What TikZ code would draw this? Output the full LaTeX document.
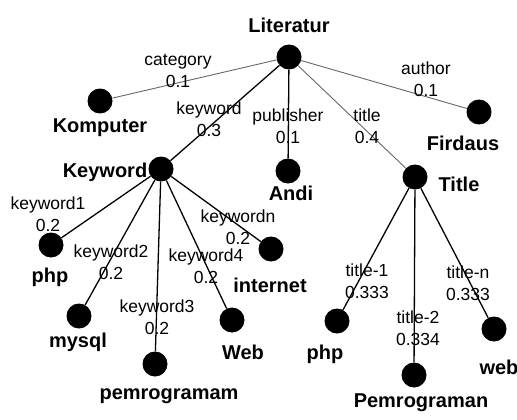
\documentclass[tikz,border=0pt]{standalone}
\usepackage{fontspec}
\setmainfont{Liberation Sans}
\usepackage{xcolor}

\begin{document}
\begin{tikzpicture}[x=1pt,y=-1pt,
    dot/.style={circle,fill=black,minimum size=25pt,inner sep=0pt},
    word/.style={anchor=base,inner sep=0pt,font=\bfseries\fontsize{20}{24}\selectfont},
    weight/.style={align=center,inner sep=0pt,font=\fontsize{17.5}{22}\selectfont},
    edge/.style={line width=1.3pt},
    faded/.style={line width=0.9pt,draw=black!60}]
  \useasboundingbox (0,0) rectangle (517,420);

  % dots
  \node[dot] (lit) at (289,57) {};
  \node[dot] (komp) at (100,101) {};
  \node[dot] (keyw) at (161,169) {};
  \node[dot] (andi) at (288,171) {};
  \node[dot] (firdaus) at (479,112) {};
  \node[dot] (title) at (415,177) {};
  \node[dot] (php_k) at (51,245) {};
  \node[dot] (mysql) at (79,316) {};
  \node[dot] (pemrog_k) at (155,364) {};
  \node[dot] (web_k) at (232,320) {};
  \node[dot] (internet) at (271,249) {};
  \node[dot] (php_t) at (337,321) {};
  \node[dot] (pemrog_t) at (414,375) {};
  \node[dot] (web_t) at (494,329) {};

  % names
  \node[word] (lit_txt) at (289,33) {Literatur};
  \node[word] (komp_txt) at (100,132) {Komputer};
  \node[word] (firdaus_txt) at (463,150) {Firdaus};
  \node[word] (keyw_txt) at (105,177) {Keyword};
  \node[word] (andi_txt) at (291,200) {Andi};
  \node[word] (title_txt) at (459,191) {Title};
  \node[word] (php_k_txt) at (50,282) {php};
  \node[word] (internet_txt) at (270,292) {internet};
  \node[word] (mysql_txt) at (78,347) {mysql};
  \node[word] (web_k_txt) at (243,359) {Web};
  \node[word] (php_t_txt) at (325,359) {php};
  \node[word] (web_t_txt) at (499,374) {web};
  \node[word] (pemrog_k_txt) at (169,399) {pemrogramam};
  \node[word] (pemrog_t_txt) at (421,407) {Pemrograman};

  % connectors
  \draw[faded] (lit) -- (komp);
  \draw[faded] (lit) -- (firdaus);
  \draw[faded] (lit) -- (title);
  \draw[edge] (lit) -- (keyw);
  \draw[edge] (lit) -- (andi);
  \draw[edge] (keyw) -- (php_k);
  \draw[edge] (keyw) -- (mysql);
  \draw[edge] (keyw) -- (pemrog_k);
  \draw[edge] (keyw) -- (web_k);
  \draw[edge] (keyw) -- (internet);
  \draw[edge] (title) -- (php_t);
  \draw[edge] (title) -- (pemrog_t);
  \draw[edge] (title) -- (web_t);

  % weights
  \node[weight] (w_cat) at (178,71) {category\\0.1};
  \node[weight] (w_auth) at (426,79) {author\\0.1};
  \node[weight] (w_keyw) at (209,119) {keyword\\0.3};
  \node[weight] (w_pub) at (288,126) {publisher\\0.1};
  \node[weight] (w_title) at (367,126) {title\\0.4};
  \node[weight] (w_k1) at (48,214) {keyword1\\0.2};
  \node[weight] (w_kn) at (238,227) {keywordn\\0.2};
  \node[weight] (w_k2) at (111,262) {keyword2\\0.2};
  \node[weight] (w_k4) at (206,266) {keyword4\\0.2};
  \node[weight] (w_k3) at (157,317) {keyword3\\0.2};
  \node[weight] (w_t1) at (367,281) {title-1\\0.333};
  \node[weight] (w_tn) at (468,283) {title-n\\0.333};
  \node[weight] (w_t2) at (418,328) {title-2\\0.334};
\end{tikzpicture}
\end{document}
